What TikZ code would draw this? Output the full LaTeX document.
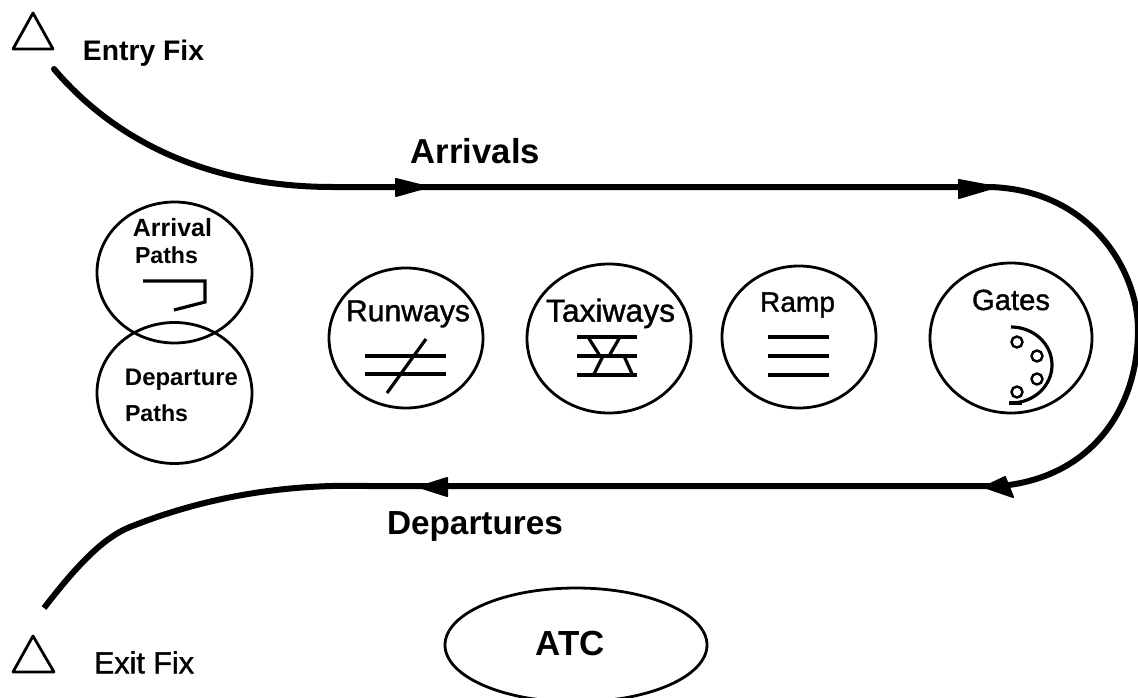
\documentclass[tikz,border=0pt]{standalone}
\usepackage{fontspec}
\setmainfont{Liberation Sans}
\usepackage{graphicx}
\usetikzlibrary{shapes.geometric}
\tikzset{
  every node/.style={inner sep=0pt,outer sep=0pt},
  ring/.style={draw=black,line width=2.8pt,ellipse,minimum width=#1},
  thin icon/.style={line width=3.2pt,black},
  flow/.style={line width=6pt,black},
  headtip/.style={fill=black,draw=black,line width=2pt,line join=round},
  fixmark/.style={draw=black,line width=2.8pt,line join=round},
  gatedot/.style={draw=black,line width=2.4pt,circle,fill=white,minimum size=11pt},
}
\newcommand{\fittext}[2]{\resizebox{#1pt}{!}{\strut\addfontfeature{FakeBold=1.2}#2}}
\newcommand{\fitbold}[2]{\resizebox{#1pt}{!}{\strut\bfseries #2}}
\begin{document}
\begin{tikzpicture}[x=1pt,y=-1pt]
\clip (0,0) rectangle (1138,698);
\fill[white] (0,0) rectangle (1138,698);
% rings
\node[ring=155pt,minimum height=141pt] (arrival) at (174.5,272.5) {};
\node[ring=155pt,minimum height=141pt] (departure) at (174.5,393) {};
\node[ring=154pt,minimum height=140pt] (runways) at (406,338) {};
\node[ring=164pt,minimum height=149pt] (taxiways) at (609,338.5) {};
\node[ring=154pt,minimum height=142pt] (ramp) at (799,337) {};
\node[ring=162pt,minimum height=150pt] (gates) at (1011,338) {};
\node[ring=262pt,minimum height=114pt] (atc) at (576,645) {};
% ring labels
\node (tarr) at (172.5,231) {\fitbold{79}{Arrival}};
\node (tarp) at (166.5,258) {\fitbold{63}{Paths}};
\node (tdep) at (181.5,380) {\fitbold{113}{Departure}};
\node (tdpp) at (156.5,416) {\fitbold{63}{Paths}};
\node (trun) at (408,314) {\fittext{124}{Runways}};
\node (ttax) at (610.5,314) {\fittext{129}{Taxiways}};
\node (tram) at (797.5,305) {\fittext{75}{Ramp}};
\node (tgat) at (1011,303) {\fittext{78}{Gates}};
\node (tatc) at (570.5,647) {\fitbold{69}{ATC}};
\node (tentry) at (143.5,54) {\fitbold{121}{Entry Fix}};
\node (texit) at (144,666) {\fittext{100}{Exit Fix}};
\node (tarrivals) at (475.5,155) {\fitbold{129}{Arrivals}};
\node (tdepartures) at (475,526) {\fitbold{176}{Departures}};
% fixes
\draw[fixmark] (33,13) -- (13,49) -- (53,49) -- cycle;
\draw[fixmark] (33,636) -- (13,672) -- (54,672) -- cycle;
% flow
\coordinate (entry) at (54,69);
\coordinate (a1) at (333,187);
\coordinate (a2) at (990,187);
\coordinate (turn) at (1138,330);
\coordinate (d2) at (1000,486);
\coordinate (d1) at (367,486);
\coordinate (b1) at (130,527);
\coordinate (exit) at (44,608);
\draw[flow,line cap=round] (entry) .. controls (110,135) and (200,187) .. (a1) -- (a2);
\draw[flow] (a2) .. controls (1090,190) and (1138,270) .. (turn)
   .. controls (1138,410) and (1090,478) .. (d2) -- (d1)
   .. controls (290,484) and (210,495) .. (b1)
   .. controls (100,539) and (72,572) .. (exit);
% arrowheads
\path[headtip] (396,179) -- (428,187) -- (396,196) -- cycle;
\path[headtip] (959,180) -- (996,187) -- (959,198) -- cycle;
\path[headtip] (1005,477) -- (984,487) -- (1013,497) -- cycle;
\path[headtip] (447,478) -- (419,487) -- (447,496) -- cycle;
% arrival path icon
\draw[thin icon,line join=miter] (143,281) -- (205,281) -- (205,302) -- (174,310);
% runways icon
\draw[thin icon] (365,356) -- (446,356) (365,374) -- (446,374);
\draw[thin icon] (426,339) -- (387,393);
% taxiways icon
\draw[thin icon] (577,337) -- (637,337) (577,356) -- (637,356) (577,375) -- (637,375);
\draw[thin icon] (588,337) -- (600,356) (620,337) -- (609,356) (603,356) -- (593,376) (624,356) -- (633,376);
% ramp icon
\draw[thin icon] (768,337) -- (829,337) (768,356) -- (829,356) (768,375) -- (829,375);
% gates icon
\draw[thin icon] (1011,327) arc[start angle=-90,end angle=90,x radius=41,y radius=38];
\draw[thin icon] (1009,403) -- (1022,403);
\foreach \n/\p in {g1/{(1017,342)},g2/{(1037,356)},g3/{(1037,379)},g4/{(1017,392)}}
  \node[gatedot] (\n) at \p {};
\end{tikzpicture}
\end{document}
